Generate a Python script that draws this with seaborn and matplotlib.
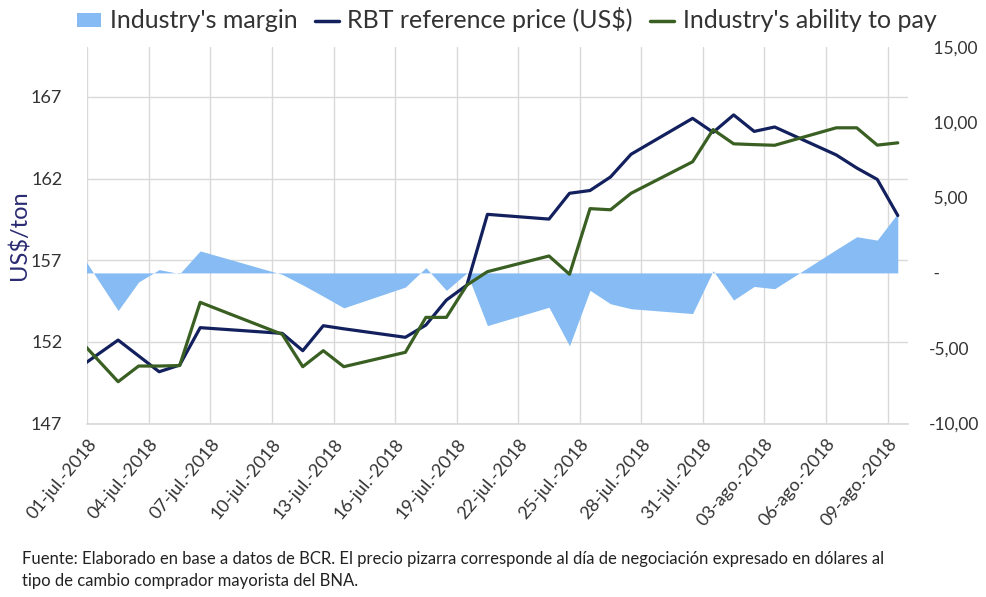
import matplotlib
matplotlib.use("Agg")
import matplotlib.pyplot as plt
import seaborn as sns
import pandas as pd
from matplotlib.patches import Patch
from matplotlib.lines import Line2D

# ---------------- data ----------------
dates = ["2018-06-29", "2018-07-02", "2018-07-03", "2018-07-04", "2018-07-05",
         "2018-07-06", "2018-07-10", "2018-07-11", "2018-07-12", "2018-07-13",
         "2018-07-16", "2018-07-17", "2018-07-18", "2018-07-19", "2018-07-20",
         "2018-07-23", "2018-07-24", "2018-07-25", "2018-07-26", "2018-07-27",
         "2018-07-30", "2018-07-31", "2018-08-01", "2018-08-02", "2018-08-03",
         "2018-08-06", "2018-08-07", "2018-08-08", "2018-08-09"]

rbt_price = [149.45, 152.11, 151.14, 150.17, 150.58,
             152.87, 152.52, 151.46, 152.99, 152.80,
             152.28, 153.03, 154.56, 155.48, 159.81,
             159.52, 161.10, 161.27, 162.10, 163.49,
             165.69, 164.83, 165.90, 164.89, 165.16,
             163.45, 162.65, 161.95, 159.74]

ability_to_pay = [153.64, 149.56, 150.52, 150.52, 150.55,
                  154.42, 152.46, 150.48, 151.46, 150.48,
                  151.36, 153.50, 153.50, 155.48, 156.30,
                  157.26, 156.14, 160.16, 160.09, 161.10,
                  163.03, 165.00, 164.13, 164.08, 164.04,
                  165.11, 165.11, 164.05, 164.19]

margin = [3.74, -2.50, -0.60, 0.22, -0.05,
          1.46, -0.10, -0.80, -1.55, -2.32,
          -0.94, 0.35, -1.16, 0.00, -3.50,
          -2.28, -4.84, -1.16, -2.05, -2.38,
          -2.70, 0.14, -1.80, -0.90, -1.05,
          1.55, 2.40, 2.18, 3.96]

tick_dates = ["2018-07-01", "2018-07-04", "2018-07-07", "2018-07-10", "2018-07-13",
              "2018-07-16", "2018-07-19", "2018-07-22", "2018-07-25", "2018-07-28",
              "2018-07-31", "2018-08-03", "2018-08-06", "2018-08-09"]
tick_labels = ["01-jul.-2018", "04-jul.-2018", "07-jul.-2018", "10-jul.-2018",
               "13-jul.-2018", "16-jul.-2018", "19-jul.-2018", "22-jul.-2018",
               "25-jul.-2018", "28-jul.-2018", "31-jul.-2018", "03-ago.-2018",
               "06-ago.-2018", "09-ago.-2018"]
left_ticks = [147, 152, 157, 162, 167]
right_ticks = [-10, -5, 0, 5, 10, 15]
right_tick_labels = ["-10,00", "-5,00", " -", " 5,00", " 10,00", " 15,00"]

series_names = ["Industry's margin", "RBT reference price (US$)", "Industry's ability to pay"]
footnote = ("Fuente: Elaborado en base a datos de BCR. El precio pizarra corresponde al día de negociación expresado en dólares al\n"
            "tipo de cambio comprador mayorista del BNA.")

# ---------------- style ----------------
sns.set_theme(style="white")
plt.rcParams["font.family"] = ["Lato", "DejaVu Sans"]

C_AREA = "#86BCF3"
C_NAVY = "#13205E"
C_GREEN = "#3A5F22"
C_GRID = "#D9D9D9"
C_TEXT = "#333333"

df = pd.DataFrame({
    "date": pd.to_datetime(dates) + pd.Timedelta(hours=12),
    "price": rbt_price,
    "ability": ability_to_pay,
    "margin": margin,
})

fig = plt.figure(figsize=(9.87, 5.97), dpi=100)
ax = fig.add_axes([0.0885, 0.2906, 0.9200 - 0.0885, 0.9213 - 0.2906])
ax_area = ax.twinx()
ax_lines = ax.twinx()

ax.set_zorder(1)
ax_area.set_zorder(2)
ax_lines.set_zorder(3)
ax_area.patch.set_visible(False)
ax_lines.patch.set_visible(False)

# area (right axis)
ax_area.fill_between(df["date"], 0, df["margin"], color=C_AREA, lw=0)

# lines (left scale)
sns.lineplot(data=df, x="date", y="price", ax=ax_lines, color=C_NAVY, lw=2.3,
             estimator=None, sort=False)
sns.lineplot(data=df, x="date", y="ability", ax=ax_lines, color=C_GREEN, lw=2.3,
             estimator=None, sort=False)

xmin = pd.Timestamp("2018-07-01")
xmax = pd.Timestamp("2018-08-10")
for a in (ax, ax_area, ax_lines):
    a.set_xlim(xmin, xmax)
    for s in a.spines.values():
        s.set_visible(False)

ax.set_ylim(147, 170.06)
ax_lines.set_ylim(147, 170.06)
ax_area.set_ylim(-10, 15)

# grid and ticks on base axis
ax.set_xticks(pd.to_datetime(tick_dates))
ax.set_xticklabels(tick_labels, rotation=50, ha="right", va="top",
                   rotation_mode="anchor", fontsize=13, color=C_TEXT)
ax.set_yticks(left_ticks)
ax.set_yticklabels([str(v) for v in left_ticks], fontsize=13, color=C_TEXT)
ax.grid(True, color=C_GRID, lw=1.0)
ax.spines["bottom"].set_visible(True)
ax.spines["bottom"].set_color(C_GRID)
ax.tick_params(axis="x", length=6, color=C_GRID, width=1, pad=3)
ax.tick_params(axis="y", length=0, pad=18)
ax.set_xlabel("")
ax.set_ylabel("")

ax_area.set_yticks(right_ticks)
ax_area.set_yticklabels(right_tick_labels, fontsize=12.5, color=C_TEXT, ha="left")
ax_area.tick_params(axis="y", length=0, pad=15)
ax_area.tick_params(axis="x", bottom=False, labelbottom=False)
ax_area.grid(False)

ax_lines.set_yticks([])
ax_lines.set_ylabel("")
ax_lines.set_xlabel("")
ax_lines.tick_params(axis="x", bottom=False, labelbottom=False)
ax_lines.grid(False)

# y label
fig.text(20 / 987, 1 - 235 / 597, "US$/ton", rotation=90, ha="center", va="center",
         fontsize=17, color="#2B2B72")

# legend
handles = [Patch(facecolor=C_AREA, edgecolor="none"),
           Line2D([], [], color=C_NAVY, lw=2.5),
           Line2D([], [], color=C_GREEN, lw=2.5)]
fig.legend(handles, series_names, loc="center", bbox_to_anchor=(0.5137, 1 - 20 / 597),
           ncol=3, frameon=False, fontsize=18, handlelength=0.95, handleheight=0.5,
           handletextpad=0.35, columnspacing=0.7, labelcolor=C_TEXT,
           borderaxespad=0, borderpad=0)

# footnote
fig.text(22 / 987, 1 - 570 / 597, footnote, ha="left", va="center", fontsize=12,
         color="#222222", linespacing=1.5)

fig.savefig("out.png", dpi=100)
